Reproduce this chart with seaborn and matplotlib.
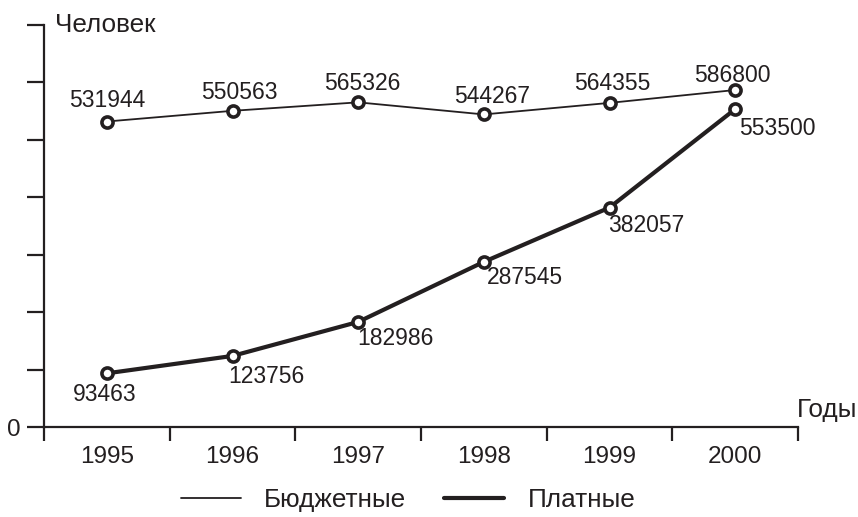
import matplotlib
matplotlib.use("Agg")
import matplotlib.pyplot as plt
from matplotlib.lines import Line2D
import seaborn as sns
import pandas as pd

years = [1995, 1996, 1997, 1998, 1999, 2000]
budget = [531944, 550563, 565326, 544267, 564355, 586800]
paid = [93463, 123756, 182986, 287545, 382057, 553500]
series_names = ["Бюджетные", "Платные"]

# label offsets in pixels relative to the point
budget_off = [(0, 21), (7, 18), (4, 19), (8, 18), (3, 19), (-3, 15)]
paid_off = [(-2, -21), (34, -21), (37, -17), (41, -16), (37, -18), (42, -19)]

ink = "#231f20"

sns.set_theme(style="white")
plt.rcParams['font.family'] = ['Liberation Sans', 'DejaVu Sans']

fig = plt.figure(figsize=(8.58, 5.17), dpi=100)
ax = fig.add_axes([44 / 858, 1 - 427 / 517, (798 - 44) / 858, (427 - 25) / 517])

df = pd.DataFrame({"year": years * 2,
                   "value": budget + paid,
                   "kind": [series_names[0]] * 6 + [series_names[1]] * 6})

for name, lw in zip(series_names, [1.3, 3.0]):
    sub = df[df["kind"] == name]
    sns.lineplot(data=sub, x="year", y="value", ax=ax, color=ink, linewidth=lw,
                 marker="o", markersize=8, markerfacecolor="white",
                 markeredgecolor=ink, markeredgewidth=2.6, legend=False)

for x, y, (dx, dy) in zip(years, budget, budget_off):
    ax.annotate(str(y), (x, y), xytext=(dx, dy), textcoords="offset pixels",
                ha="center", va="center", fontsize=16.5, color=ink)
for x, y, (dx, dy) in zip(years, paid, paid_off):
    ax.annotate(str(y), (x, y), xytext=(dx, dy), textcoords="offset pixels",
                ha="center", va="center", fontsize=16.5, color=ink)

ax.set_xlim(1994.5, 2000.5)
ax.set_ylim(0, 700000)
ax.set_xticks([1994.5 + i for i in range(7)])
ax.set_xticklabels([])
ax.set_xticks(years, minor=True)
ax.set_xticklabels([str(y) for y in years], minor=True, fontsize=17.5, color=ink)
ax.set_yticks([i * 100000 for i in range(8)])
ax.set_yticklabels(["0"] + [""] * 7, fontsize=17.5, color=ink)
ax.tick_params(axis="x", which="major", direction="out", length=10, width=1.6,
               color=ink, bottom=True)
ax.tick_params(axis="x", which="minor", length=0, pad=14, bottom=True)
ax.tick_params(axis="y", direction="out", length=12, width=1.6, color=ink,
               left=True, pad=5)
ax.set_xlabel("")
ax.set_ylabel("")

for s in ["top", "right"]:
    ax.spines[s].set_visible(False)
for s in ["left", "bottom"]:
    ax.spines[s].set_color(ink)
    ax.spines[s].set_linewidth(1.6)

fig.text(55 / 858, 1 - 25 / 517, "Человек", fontsize=18.8, color=ink,
         ha="left", va="center")
fig.text(797 / 858, 1 - 410 / 517, "Годы", fontsize=18.8, color=ink,
         ha="left", va="center")

handles = [Line2D([], [], color=ink, linewidth=1.3),
           Line2D([], [], color=ink, linewidth=3.0)]
fig.legend(handles, series_names, loc="center", bbox_to_anchor=(408 / 858, 1 - 500 / 517),
           ncol=2, frameon=False, fontsize=18.8, handlelength=2.3, handletextpad=0.9,
           columnspacing=1.45, labelcolor=ink, borderpad=0, borderaxespad=0)

fig.savefig("out.png", dpi=100)
